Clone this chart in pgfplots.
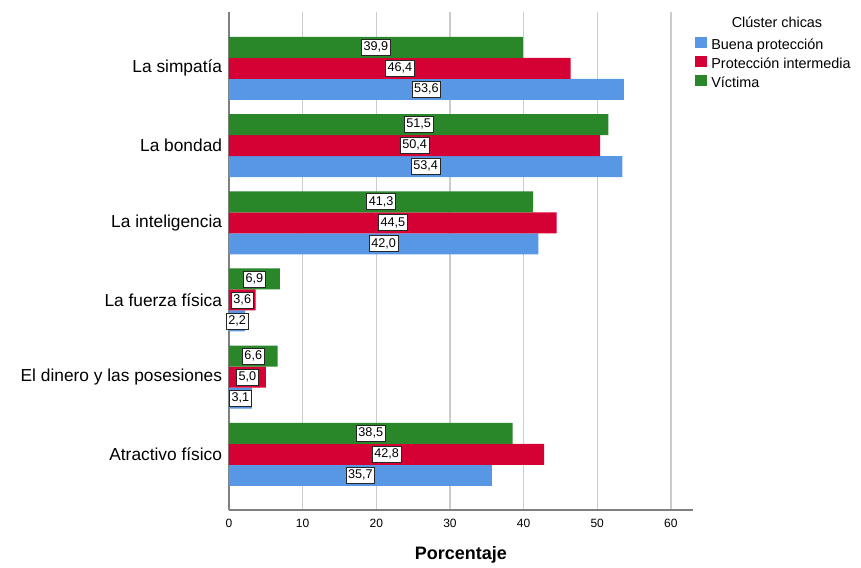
\documentclass[border=0pt]{standalone}
\usepackage{fontspec}
\setmainfont{Liberation Sans}
\usepackage{pgfplots}
\usepackage{pgfplotstable}
\pgfplotsset{compat=1.18}
\definecolor{cBuena}{RGB}{87,151,228}
\definecolor{cInter}{RGB}{213,0,52}
\definecolor{cVict}{RGB}{41,134,41}
\pgfplotstableread{
idx B I V
0 53.6 46.4 39.9
1 53.4 50.4 51.5
2 42.0 44.5 41.3
3 2.2 3.6 6.9
4 3.1 5.0 6.6
5 35.7 42.8 38.5
}\data
\pgfplotsset{lbl/.style={forget plot, draw=none, mark=none,
  point meta=explicit,
  nodes near coords={\pgfmathprintnumber[fixed,fixed zerofill,precision=1,use comma]{\pgfplotspointmeta}},
  nodes near coords align=center,
  every node near coord/.append style={font=\fontsize{9.5}{10}\selectfont, fill=white, draw=black!85, line width=0.6pt,
    inner xsep=1.5pt, inner ysep=1.4pt, text height=7.1pt, text depth=2pt, anchor=center}}}
\begin{document}
\begin{tikzpicture}
\begin{axis}[
  scale only axis, width=348pt, height=373.5pt,
  at={(0,0)}, anchor=south west,
  xmin=0, xmax=63, ymin=-0.73, ymax=5.72, y dir=reverse,
  clip=false,
  axis x line*=bottom, axis y line*=left,
  axis line style={draw=black!50, line width=0.9pt, -},
  xtick={0,10,...,60}, ytick={0,...,5},
  yticklabels={La simpatía, La bondad, La inteligencia, La fuerza física, El dinero y las posesiones, Atractivo físico},
  major tick length=0pt,
  xmajorgrids, grid style={black!20, line width=1pt},
  /pgf/number format/assume math mode=true,
  xticklabel style={font=\fontsize{9}{10}\selectfont, inner ysep=0pt, yshift=-6.3pt},
  yticklabel style={font=\fontsize{13}{15}\selectfont, inner xsep=0pt, xshift=-5pt},
  xlabel={Porcentaje},
  xlabel style={font=\bfseries\fontsize{13.5}{15}\selectfont, at={(axis description cs:0.5,0)}, anchor=center, yshift=-33.75pt},
  legend style={at={(axis description cs:1.004,0.951)}, anchor=north west, draw=none, fill=none, inner sep=0pt,
    font=\fontsize{10.8}{12}\selectfont, row sep=1.4pt,
    nodes={inner sep=1pt, text height=8pt, text depth=2.5pt}},
  legend cell align=left,
  legend image code/.code={\path (0pt,0pt) -- (11.2pt,0pt);\fill[#1, draw=none] (0pt,-1.6pt) rectangle (8.7pt,6.8pt);},
]
\addplot[xbar, bar width=0.272, bar shift=0.272, fill=cBuena, draw=none] table[x=B, y=idx]{\data};
\addlegendentry{Buena protección}
\addplot[xbar, bar width=0.272, bar shift=0, fill=cInter, draw=none] table[x=I, y=idx]{\data};
\addlegendentry{Protección intermedia}
\addplot[xbar, bar width=0.272, bar shift=-0.272, fill=cVict, draw=none] table[x=V, y=idx]{\data};
\addlegendentry{Víctima}
\addplot[lbl] table[x expr=\thisrow{B}/2, y expr=\thisrow{idx}+0.272, meta=B]{\data};
\addplot[lbl] table[x expr=\thisrow{I}/2, y expr=\thisrow{idx}, meta=I]{\data};
\addplot[lbl] table[x expr=\thisrow{V}/2, y expr=\thisrow{idx}-0.272, meta=V]{\data};
\node[font=\fontsize{10.8}{12}\selectfont, anchor=center] at (axis description cs:1.181,0.979) {Clúster chicas};
\end{axis}
\pgfresetboundingbox
\path[use as bounding box] (-171.75pt,-43.5pt) rectangle (474pt,382.5pt);
\end{tikzpicture}
\end{document}
